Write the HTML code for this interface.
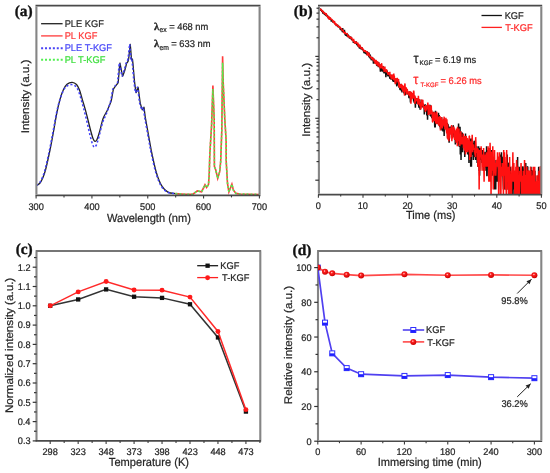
<!DOCTYPE html>
<html><head><meta charset="utf-8"><style>
html,body{margin:0;padding:0;background:#fff;width:550px;height:473px;overflow:hidden;}
body{position:relative;font-family:"Liberation Sans",sans-serif;}
</style></head><body>
<svg width="550" height="473" viewBox="0 0 550 473" style="position:absolute;left:0;top:0;filter:blur(0.35px)" text-rendering="geometricPrecision">
<rect width="550" height="473" fill="#fff"/>
<defs><clipPath id="ca"><rect x="36.4" y="5.6" width="223.2" height="189.8"/></clipPath>
<clipPath id="cb"><rect x="318.9" y="5.6" width="222.4" height="189"/></clipPath>
<clipPath id="cd"><rect x="318" y="251" width="223.29999999999995" height="190.2"/></clipPath>
<radialGradient id="ball" cx="0.42" cy="0.38" r="0.62"><stop offset="0" stop-color="#ffe0e0"/><stop offset="0.3" stop-color="#ff2020"/><stop offset="1" stop-color="#c80000"/></radialGradient>
</defs>
<g clip-path="url(#ca)" fill="none">
<path d="M36.5,185.4 C37.05,185.05 38.8,184.45 39.8,183.3 C40.8,182.15 41.55,180.72 42.5,178.5 C43.45,176.28 44.25,174.75 45.5,170 C46.75,165.25 48.62,156.67 50,150 C51.38,143.33 52.63,136.33 53.8,130 C54.97,123.67 55.95,117.17 57,112 C58.05,106.83 59.02,102.75 60.1,99 C61.18,95.25 62.35,91.97 63.5,89.5 C64.65,87.03 65.55,85.4 67,84.2 C68.45,83 70.62,82.25 72.2,82.3 C73.78,82.35 75.28,83.22 76.5,84.5 C77.72,85.78 78.53,87.5 79.5,90 C80.47,92.5 81.22,95.8 82.3,99.5 C83.38,103.2 84.63,107.12 86,112.2 C87.37,117.28 89.33,125.62 90.5,130 C91.67,134.38 92.27,136.6 93,138.5 C93.73,140.4 94.23,141.23 94.9,141.4 C95.57,141.57 96.23,141.07 97,139.5 C97.77,137.93 98.48,135.5 99.5,132 C100.52,128.5 101.85,122 103.1,118.5 C104.35,115 105.85,113.42 107,111 C108.15,108.58 109.27,105.83 110,104 C110.73,102.17 111.26,100.59 111.4,100 C111.54,99.41 113.22,89.78 113.4,89.2 C113.58,88.62 115.81,85.77 116,85.5 C116.19,85.23 118.04,83.3 118.2,82.4 C118.36,81.5 119.72,63.35 119.9,63.1 C120.08,62.85 122.39,75.95 122.6,76.2 C122.81,76.45 124.94,69.82 125.1,69.3 C125.26,68.78 126.58,63.41 126.7,63.1 C126.82,62.79 127.92,61.72 128,61.5 C128.08,61.28 128.71,58.29 128.8,57.6 C128.89,56.91 130.19,44.22 130.3,44.3 C130.41,44.38 131.42,59.11 131.5,59.7 C131.58,60.29 132.34,58.78 132.4,59 C132.46,59.22 133.02,64.35 133.1,65.2 C133.18,66.05 134.28,79.2 134.4,80.3 C134.52,81.4 135.95,92.32 136.1,92.6 C136.25,92.88 137.94,86.79 138.1,87.2 C138.26,87.61 140.03,101.9 140.2,102.8 C140.37,103.7 142.15,109.62 142.3,109.8 C142.45,109.98 143.88,107.02 144,107.3 C144.12,107.58 144.99,115.51 145.2,116.8 C145.41,118.09 148.17,133.4 149.3,139.6 C150.43,145.8 150.8,148.43 152,154 C153.2,159.57 154.9,167.72 156.5,173 C158.1,178.28 159.7,182.52 161.6,185.7 C163.5,188.88 165.58,190.78 167.9,192.1 C170.22,193.42 174.23,193.35 175.5,193.6" stroke="#222" stroke-width="1.3"/>
<path d="M175.5,193.6 L185,194.3 L192.9,194.2 L197.3,190.9 L201.6,191.8 L205,184.8 L206.6,187.5 L208.5,184.6 L209.2,174.3 L209.8,154.7 L210.5,142.9 L211.6,125 L212.9,85.5 L214.2,120 L214.4,166.5 L215.7,169.8 L217.7,178.3 L219.7,171.7 L220.7,161.2 L221.8,130 L222.6,56.2 L223.3,85 L224.8,119.4 L226.1,140 L226.2,161.2 L227.5,183.5 L228.9,192 L231.9,184.2 L233.4,190.1 L236,193.4 L240,194 L259.4,194.5" stroke="#ff3a3a" stroke-width="1.6"/>
<path d="M36.5,185.4 C36.95,185.06 38.3,184.47 39.2,183.34 C40.1,182.2 40.95,180.78 41.9,178.59 C42.85,176.4 43.65,174.87 44.9,170.19 C46.15,165.52 48.02,157.06 49.4,150.52 C50.78,143.98 52.03,137.14 53.2,130.96 C54.37,124.78 55.35,118.45 56.4,113.44 C57.45,108.44 58.42,104.55 59.5,100.91 C60.58,97.27 61.75,94.02 62.9,91.6 C64.05,89.18 64.95,87.58 66.4,86.41 C67.85,85.23 70.02,84.5 71.6,84.54 C73.18,84.59 74.68,85.44 75.9,86.7 C77.12,87.96 77.93,89.64 78.9,92.09 C79.87,94.54 80.62,97.55 81.7,101.4 C82.78,105.25 84.03,109.64 85.4,115.19 C86.77,120.75 88.73,129.96 89.9,134.72 C91.07,139.48 91.67,141.66 92.4,143.74 C93.13,145.82 93.63,147.02 94.3,147.2 C94.97,147.38 95.63,146.53 96.4,144.84 C97.17,143.15 97.88,140.72 98.9,137.06 C99.92,133.39 101.25,126.77 102.5,122.88 C103.75,118.98 105.25,116.65 106.4,113.7 C107.55,110.75 108.67,107.39 109.4,105.17 C110.13,102.95 110.23,103.03 110.8,100.37 C111.37,97.71 112.62,89.79 112.8,89.2 C112.98,88.61 115.21,85.77 115.4,85.5 C115.59,85.23 117.44,83.3 117.6,82.4 C117.76,81.5 119.12,63.35 119.3,63.1 C119.48,62.85 121.79,75.95 122,76.2 C122.21,76.45 124.34,69.82 124.5,69.3 C124.66,68.78 125.98,63.41 126.1,63.1 C126.22,62.79 127.32,61.72 127.4,61.5 C127.48,61.28 128.11,58.29 128.2,57.6 C128.29,56.91 129.59,44.22 129.7,44.3 C129.81,44.38 130.82,59.11 130.9,59.7 C130.98,60.29 131.74,58.78 131.8,59 C131.86,59.22 132.42,64.35 132.5,65.2 C132.58,66.05 133.68,79.2 133.8,80.3 C133.92,81.4 135.35,92.32 135.5,92.6 C135.65,92.88 137.34,86.79 137.5,87.2 C137.66,87.61 139.43,101.9 139.6,102.8 C139.77,103.7 141.55,109.62 141.7,109.8 C141.85,109.98 143.28,107.02 143.4,107.3 C143.52,107.58 144.39,115.51 144.6,116.8 C144.81,118.09 147.57,133.4 148.7,139.6 C149.83,145.8 150.2,148.43 151.4,154 C152.6,159.57 154.3,167.72 155.9,173 C157.5,178.28 159.1,182.52 161,185.7 C162.9,188.88 164.98,190.78 167.3,192.1 C169.62,193.42 173.63,193.35 174.9,193.6" stroke="#4040fa" stroke-width="1.55" stroke-dasharray="2.1 2.1"/>
<path d="M175.5,193.6 L185,194.3 L192.9,194.2 L197.3,190.9 L201.6,191.8 L205,184.8 L206.6,187.5 L208.5,184.6 L209.2,174.3 L209.8,154.7 L210.5,142.9 L211.6,125 L212.9,89 L214.2,120 L214.4,166.5 L215.7,169.8 L217.7,178.3 L219.7,171.7 L220.7,161.2 L221.8,130 L222.6,62.8 L223.3,85 L224.8,119.4 L226.1,140 L226.2,161.2 L227.5,183.5 L228.9,192 L231.9,184.2 L233.4,190.1 L236,193.4 L240,194 L259.4,194.5" stroke="#50f050" stroke-width="1.6" stroke-dasharray="2 1.92"/>
</g>
<path d="M35.5,5.6 H260.5 M35.5,195.4 H260.5" stroke="#4a4a4a" stroke-width="1.6" fill="none"/>
<path d="M36.4,6.4 V194.6 M259.6,6.4 V194.6" stroke="#858585" stroke-width="2.1" fill="none"/>
<line x1="36.1" y1="195.4" x2="36.1" y2="198.6" stroke="#3c3c3c" stroke-width="1.1" />
<text transform="translate(28.42 209.73) scale(1 1.05)" font-family="Liberation Sans" font-weight="normal" font-size="9.2" fill="#262626" stroke="#262626" stroke-width="0.22">300</text>
<line x1="64.01" y1="195.4" x2="64.01" y2="197.4" stroke="#3c3c3c" stroke-width="1.1" />
<line x1="91.93" y1="195.4" x2="91.93" y2="198.6" stroke="#3c3c3c" stroke-width="1.1" />
<text transform="translate(84.34 209.73) scale(1 1.05)" font-family="Liberation Sans" font-weight="normal" font-size="9.2" fill="#262626" stroke="#262626" stroke-width="0.22">400</text>
<line x1="119.84" y1="195.4" x2="119.84" y2="197.4" stroke="#3c3c3c" stroke-width="1.1" />
<line x1="147.75" y1="195.4" x2="147.75" y2="198.6" stroke="#3c3c3c" stroke-width="1.1" />
<text transform="translate(140.07 209.73) scale(1 1.05)" font-family="Liberation Sans" font-weight="normal" font-size="9.2" fill="#262626" stroke="#262626" stroke-width="0.22">500</text>
<line x1="175.66" y1="195.4" x2="175.66" y2="197.4" stroke="#3c3c3c" stroke-width="1.1" />
<line x1="203.57" y1="195.4" x2="203.57" y2="198.6" stroke="#3c3c3c" stroke-width="1.1" />
<text transform="translate(195.85 209.73) scale(1 1.05)" font-family="Liberation Sans" font-weight="normal" font-size="9.2" fill="#262626" stroke="#262626" stroke-width="0.22">600</text>
<line x1="231.49" y1="195.4" x2="231.49" y2="197.4" stroke="#3c3c3c" stroke-width="1.1" />
<line x1="259.4" y1="195.4" x2="259.4" y2="198.6" stroke="#3c3c3c" stroke-width="1.1" />
<text transform="translate(251.67 209.73) scale(1 1.05)" font-family="Liberation Sans" font-weight="normal" font-size="9.2" fill="#262626" stroke="#262626" stroke-width="0.22">700</text>
<text transform="translate(106.91 221.57) scale(1 1.05)" font-family="Liberation Sans" font-weight="normal" font-size="11.1" fill="#262626" stroke="#262626" stroke-width="0.22">Wavelength (nm)</text>
<text transform="translate(29.13 133.34) rotate(-90) scale(1.05 1)" font-family="Liberation Sans" font-size="11.1" fill="#262626" stroke="#262626" stroke-width="0.22">Intensity (a.u.)</text>
<line x1="41.1" y1="23.7" x2="62.6" y2="23.7" stroke="#222" stroke-width="1.3" />
<text transform="translate(64.66 26.77) scale(1 1.05)" font-family="Liberation Sans" font-weight="normal" font-size="9.3" fill="#2a2a2a" stroke="#2a2a2a" stroke-width="0.22">PLE KGF</text>
<line x1="41.1" y1="35.9" x2="62.6" y2="35.9" stroke="#ff3a3a" stroke-width="1.3" />
<text transform="translate(64.66 38.97) scale(1 1.05)" font-family="Liberation Sans" font-weight="normal" font-size="9.3" fill="#ff3a3a" stroke="#ff3a3a" stroke-width="0.22">PL KGF</text>
<line x1="41.1" y1="48.2" x2="62.7" y2="48.2" stroke="#4a44f5" stroke-width="1.9" stroke-dasharray="2 1.92"/>
<text transform="translate(64.66 51.27) scale(1 1.05)" font-family="Liberation Sans" font-weight="normal" font-size="9.3" fill="#4848f8" stroke="#4848f8" stroke-width="0.22">PLE T-KGF</text>
<line x1="41.1" y1="59.8" x2="62.7" y2="59.8" stroke="#50f050" stroke-width="1.9" stroke-dasharray="2 1.92"/>
<text transform="translate(64.66 62.87) scale(1 1.05)" font-family="Liberation Sans" font-weight="normal" font-size="9.3" fill="#40e040" stroke="#40e040" stroke-width="0.22">PL T-KGF</text>
<text transform="translate(154.09 29.5) scale(1 1)" font-family="Liberation Serif" font-weight="bold" font-size="10.5" fill="#262626" stroke="#262626" stroke-width="0.35">λ</text>
<text transform="translate(159.53 32.4) scale(1 1.05)" font-family="Liberation Sans" font-weight="normal" font-size="6.8" fill="#262626" stroke="#262626" stroke-width="0.22">ex</text>
<text transform="translate(169.13 29.99) scale(1 1.05)" font-family="Liberation Sans" font-weight="normal" font-size="9.35" fill="#262626" stroke="#262626" stroke-width="0.22">= 468 nm</text>
<text transform="translate(154.09 46.8) scale(1 1)" font-family="Liberation Serif" font-weight="bold" font-size="10.5" fill="#262626" stroke="#262626" stroke-width="0.35">λ</text>
<text transform="translate(159.53 49.6) scale(1 1.05)" font-family="Liberation Sans" font-weight="normal" font-size="6.8" fill="#262626" stroke="#262626" stroke-width="0.22">em</text>
<text transform="translate(171.23 46.69) scale(1 1.05)" font-family="Liberation Sans" font-weight="normal" font-size="9.35" fill="#262626" stroke="#262626" stroke-width="0.22">= 633 nm</text>
<text transform="translate(14.64 16.4) scale(1 1)" font-family="Liberation Serif" font-weight="bold" font-size="15.4" fill="#111" stroke="#111" stroke-width="0.35">(a)</text>
<g clip-path="url(#cb)" fill="none" stroke-linejoin="bevel">
<path d="M318.4,8.27 L318.65,7.66 L318.9,9.06 L319.14,7.13 L319.39,8.73 L319.64,8.5 L319.89,9.68 L320.14,8.97 L320.38,8.92 L320.63,9.63 L320.88,10.18 L321.13,10.64 L321.38,9.72 L321.62,10.71 L321.87,11.86 L322.12,11.25 L322.37,11.08 L322.62,10.76 L322.86,13.57 L323.11,12.34 L323.36,11.43 L323.61,12.82 L323.86,12.86 L324.11,14.31 L324.35,12.6 L324.6,13.83 L324.85,14.72 L325.1,14.03 L325.35,13.79 L325.59,15.68 L325.84,13.82 L326.09,14.35 L326.34,16.15 L326.59,15.78 L326.83,15.65 L327.08,16.42 L327.33,14.87 L327.58,16.46 L327.83,16.12 L328.07,18.04 L328.32,17.56 L328.57,16.84 L328.82,17.23 L329.07,18.54 L329.31,18.8 L329.56,17.68 L329.81,17.97 L330.06,18.99 L330.31,19.47 L330.55,18.94 L330.8,19.44 L331.05,19.45 L331.3,21.73 L331.55,20.04 L331.79,20.72 L332.04,20.91 L332.29,21.23 L332.54,20 L332.79,22.48 L333.04,21.16 L333.28,21.14 L333.53,22.89 L333.78,21.82 L334.03,21.96 L334.28,22.12 L334.52,23.88 L334.77,23.22 L335.02,23.24 L335.27,24.26 L335.52,24.22 L335.76,24.63 L336.01,24.59 L336.26,24.28 L336.51,26.03 L336.76,25.02 L337,26.21 L337.25,24.94 L337.5,24.73 L337.75,26.5 L338,26.65 L338.24,26.8 L338.49,25.78 L338.74,26.46 L338.99,26.59 L339.24,27.35 L339.48,27.61 L339.73,27.48 L339.98,28.21 L340.23,29.58 L340.48,28.95 L340.72,28.63 L340.97,29.3 L341.22,30.38 L341.47,29.81 L341.72,29.86 L341.97,30.07 L342.21,31.22 L342.46,32.16 L342.71,28.1 L342.96,32.18 L343.21,32.05 L343.45,31.42 L343.7,32.36 L343.95,31.32 L344.2,32.44 L344.45,29.91 L344.69,33.67 L344.94,32.91 L345.19,35.09 L345.44,33.69 L345.69,33.37 L345.93,36.03 L346.18,32.99 L346.43,34.69 L346.68,33.02 L346.93,34.19 L347.17,36.12 L347.42,36.78 L347.67,35.67 L347.92,34.44 L348.17,35.56 L348.41,37.19 L348.66,35.88 L348.91,36.21 L349.16,37.09 L349.41,38.23 L349.65,37.47 L349.9,38.69 L350.15,38.17 L350.4,37.91 L350.65,37 L350.89,36.85 L351.14,38.92 L351.39,39.35 L351.64,40.07 L351.89,39.66 L352.14,39.97 L352.38,39.59 L352.63,40.17 L352.88,40.74 L353.13,40.45 L353.38,42.91 L353.62,41.56 L353.87,41.27 L354.12,42.08 L354.37,41.71 L354.62,42.49 L354.86,42.72 L355.11,42.49 L355.36,43.3 L355.61,43.26 L355.86,41.93 L356.1,41.53 L356.35,42.12 L356.6,44.34 L356.85,44.46 L357.1,43.69 L357.34,44.21 L357.59,45.84 L357.84,44.66 L358.09,46.14 L358.34,46.44 L358.58,46.8 L358.83,45.12 L359.08,47.06 L359.33,47.29 L359.58,48.59 L359.82,45.41 L360.07,48.16 L360.32,46.09 L360.57,48.26 L360.82,47.06 L361.07,49.51 L361.31,47.65 L361.56,47.15 L361.81,49.26 L362.06,47.65 L362.31,49.26 L362.55,50.1 L362.8,49.7 L363.05,49.51 L363.3,49.12 L363.55,51.13 L363.79,51.28 L364.04,53.07 L364.29,51.34 L364.54,50.05 L364.79,51.44 L365.03,53.53 L365.28,52.14 L365.53,53.81 L365.78,53.47 L366.03,52.68 L366.27,53.93 L366.52,53.99 L366.77,53.87 L367.02,54.93 L367.27,51.39 L367.51,52.85 L367.76,52.19 L368.01,54.69 L368.26,54.34 L368.51,54.93 L368.75,55.73 L369,56.8 L369.25,52.68 L369.5,57.85 L369.75,57.12 L370,58.39 L370.24,54.63 L370.49,56.8 L370.74,56.54 L370.99,58.19 L371.24,60.16 L371.48,59.44 L371.73,59.16 L371.98,59.37 L372.23,57.45 L372.48,57.45 L372.72,60.53 L372.97,58.95 L373.22,60.98 L373.47,63.67 L373.72,60.02 L373.96,58.53 L374.21,62.53 L374.46,60.68 L374.71,60.6 L374.96,60.98 L375.2,61.74 L375.45,63.83 L375.7,62.53 L375.95,63.25 L376.2,61.05 L376.44,62.45 L376.69,65.74 L376.94,63.17 L377.19,62.85 L377.44,66.2 L377.68,64.17 L377.93,63.83 L378.18,62.61 L378.43,67.13 L378.68,62.21 L378.93,66.38 L379.17,66.2 L379.42,67.03 L379.67,65.74 L379.92,64.43 L380.17,67.41 L380.41,71.65 L380.66,68.09 L380.91,66.56 L381.16,67.03 L381.41,71.1 L381.65,69.5 L381.9,68.29 L382.15,68.09 L382.4,71.76 L382.65,69.81 L382.89,68.09 L383.14,69.6 L383.39,66.2 L383.64,72.8 L383.89,71.54 L384.13,73.39 L384.38,71.99 L384.63,70.02 L384.88,72.91 L385.13,72.45 L385.37,71.54 L385.62,70.55 L385.87,77.23 L386.12,72.45 L386.37,71.43 L386.61,73.99 L386.86,72.45 L387.11,70.45 L387.36,75.11 L387.61,72.1 L387.85,76.15 L388.1,75.11 L388.35,76.42 L388.6,72.33 L388.85,73.27 L389.1,75.37 L389.34,74.61 L389.59,76.82 L389.84,78.22 L390.09,78.79 L390.34,75.89 L390.58,77.23 L390.83,76.69 L391.08,79.69 L391.33,77.79 L391.58,74.86 L391.82,78.94 L392.07,78.5 L392.32,76.82 L392.57,75.89 L392.82,81.4 L393.06,78.94 L393.31,80.3 L393.56,80.61 L393.81,81.72 L394.06,80.61 L394.3,77.51 L394.55,79.54 L394.8,78.36 L395.05,79.99 L395.3,82.38 L395.54,79.39 L395.79,83.23 L396.04,78.79 L396.29,79.69 L396.54,83.93 L396.78,86.33 L397.03,81.08 L397.28,83.93 L397.53,85.01 L397.78,81.08 L398.03,81.72 L398.27,84.65 L398.52,84.47 L398.77,87.32 L399.02,86.92 L399.27,83.75 L399.51,84.29 L399.76,88.76 L400.01,89.4 L400.26,89.62 L400.51,89.4 L400.75,84.11 L401,84.47 L401.25,87.93 L401.5,91.2 L401.75,86.33 L401.99,92.38 L402.24,86.92 L402.49,89.19 L402.74,87.52 L402.99,90.06 L403.23,87.72 L403.48,87.72 L403.73,89.84 L403.98,93.37 L404.23,89.62 L404.47,88.97 L404.72,93.12 L404.97,95.19 L405.22,94.65 L405.47,90.74 L405.71,92.87 L405.96,93.12 L406.21,92.14 L406.46,91.43 L406.71,90.74 L406.96,93.62 L407.2,94.13 L407.45,91.43 L407.7,93.88 L407.95,91.9 L408.2,92.87 L408.44,92.14 L408.69,94.65 L408.94,98.32 L409.19,94.39 L409.44,94.92 L409.68,93.88 L409.93,91.43 L410.18,95.73 L410.43,102.56 L410.68,96.01 L410.92,93.62 L411.17,96.57 L411.42,94.92 L411.67,97.72 L411.92,96.28 L412.16,97.43 L412.41,97.14 L412.66,96.85 L412.91,93.88 L413.16,93.62 L413.4,96.28 L413.65,101.52 L413.9,99.87 L414.15,102.56 L414.4,96.01 L414.64,96.85 L414.89,100.85 L415.14,101.52 L415.39,107.61 L415.64,99.56 L415.88,99.87 L416.13,98.02 L416.38,103.65 L416.63,100.2 L416.88,98.93 L417.13,99.56 L417.37,102.92 L417.62,98.02 L417.87,100.52 L418.12,103.65 L418.37,103.65 L418.61,104.02 L418.86,107.61 L419.11,104.02 L419.36,106.36 L419.61,99.56 L419.85,105.16 L420.1,109.83 L420.35,105.16 L420.6,104.78 L420.85,102.21 L421.09,106.77 L421.34,105.95 L421.59,99.87 L421.84,107.18 L422.09,100.52 L422.33,104.02 L422.58,104.39 L422.83,105.95 L423.08,106.36 L423.33,107.18 L423.57,107.61 L423.82,105.16 L424.07,105.16 L424.32,114.36 L424.57,109.83 L424.81,110.3 L425.06,105.95 L425.31,104.39 L425.56,107.18 L425.81,105.55 L426.06,107.61 L426.3,107.18 L426.55,107.61 L426.8,115.48 L427.05,105.55 L427.3,106.77 L427.54,119.82 L427.79,110.77 L428.04,114.36 L428.29,112.77 L428.54,109.83 L428.78,113.29 L429.03,112.77 L429.28,113.82 L429.53,111.26 L429.78,112.25 L430.02,104.78 L430.27,116.06 L430.52,114.92 L430.77,115.48 L431.02,116.65 L431.26,114.92 L431.51,114.36 L431.76,117.88 L432.01,114.36 L432.26,117.88 L432.5,118.51 L432.75,112.25 L433,117.88 L433.25,111.75 L433.5,113.82 L433.74,113.29 L433.99,117.88 L434.24,115.48 L434.49,117.26 L434.74,127.55 L434.99,119.16 L435.23,127.55 L435.48,110.77 L435.73,121.92 L435.98,117.26 L436.23,117.26 L436.47,117.88 L436.72,117.26 L436.97,123.41 L437.22,123.41 L437.47,122.65 L437.71,115.48 L437.96,121.2 L438.21,119.82 L438.46,112.77 L438.71,117.88 L438.95,124.99 L439.2,114.92 L439.45,121.92 L439.7,126.67 L439.95,124.99 L440.19,119.16 L440.44,128.46 L440.69,124.99 L440.94,119.16 L441.19,117.88 L441.43,120.5 L441.68,117.26 L441.93,130.39 L442.18,125.82 L442.43,120.5 L442.67,121.92 L442.92,131.4 L443.17,126.67 L443.42,123.41 L443.67,124.19 L443.92,122.65 L444.16,135.89 L444.41,118.51 L444.66,129.41 L444.91,124.99 L445.16,122.65 L445.4,124.19 L445.65,125.82 L445.9,124.19 L446.15,125.82 L446.4,127.55 L446.64,131.4 L446.89,132.45 L447.14,131.4 L447.39,122.65 L447.64,137.14 L447.88,138.45 L448.13,124.19 L448.38,129.41 L448.63,133.55 L448.88,129.41 L449.12,142.82 L449.37,137.14 L449.62,126.67 L449.87,129.41 L450.12,126.67 L450.36,128.46 L450.61,130.39 L450.86,126.67 L451.11,127.55 L451.36,133.55 L451.6,134.7 L451.85,133.55 L452.1,134.7 L452.35,134.7 L452.6,129.41 L452.84,137.14 L453.09,125.82 L453.34,125.82 L453.59,134.7 L453.84,133.55 L454.09,129.41 L454.33,130.39 L454.58,135.89 L454.83,139.83 L455.08,134.7 L455.33,144.45 L455.57,141.29 L455.82,135.89 L456.07,135.89 L456.32,135.89 L456.57,132.45 L456.81,141.29 L457.06,137.14 L457.31,142.82 L457.56,138.45 L457.81,144.45 L458.05,132.45 L458.3,135.89 L458.55,123.41 L458.8,131.4 L459.05,146.19 L459.29,146.19 L459.54,135.89 L459.79,134.7 L460.04,126.67 L460.29,154.52 L460.53,146.19 L460.78,131.4 L461.03,159.92 L461.28,139.83 L461.53,135.89 L461.77,146.19 L462.02,148.04 L462.27,132.45 L462.52,152.19 L462.77,142.82 L463.02,148.04 L463.26,142.82 L463.51,139.83 L463.76,144.45 L464.01,137.14 L464.26,144.45 L464.5,146.19 L464.75,157.09 L465,150.03 L465.25,144.45 L465.5,133.55 L465.74,146.19 L465.99,146.19 L466.24,146.19 L466.49,139.83 L466.74,146.19 L466.98,141.29 L467.23,148.04 L467.48,150.03 L467.73,154.52 L467.98,152.19 L468.22,144.45 L468.47,154.52 L468.72,150.03 L468.97,163.09 L469.22,142.82 L469.46,144.45 L469.71,154.52 L469.96,150.03 L470.21,159.92 L470.46,138.45 L470.7,166.68 L470.95,152.19 L471.2,138.45 L471.45,166.68 L471.7,139.83 L471.95,154.52 L472.19,138.45 L472.44,142.82 L472.69,154.52 L472.94,154.52 L473.19,142.82 L473.43,159.92 L473.68,152.19 L473.93,154.52 L474.18,141.29 L474.43,141.29 L474.67,150.03 L474.92,157.09 L475.17,150.03 L475.42,152.19 L475.67,159.92 L475.91,152.19 L476.16,154.52 L476.41,157.09 L476.66,146.19 L476.91,148.04 L477.15,163.09 L477.4,148.04 L477.65,152.19 L477.9,166.68 L478.15,159.92 L478.39,154.52 L478.64,146.19 L478.89,150.03 L479.14,170.82 L479.39,170.82 L479.63,175.72 L479.88,150.03 L480.13,148.04 L480.38,157.09 L480.63,159.92 L480.87,157.09 L481.12,148.04 L481.37,154.52 L481.62,157.09 L481.87,163.09 L482.12,154.52 L482.36,157.09 L482.61,150.03 L482.86,157.09 L483.11,157.09 L483.36,159.92 L483.6,170.82 L483.85,157.09 L484.1,159.92 L484.35,157.09 L484.6,170.82 L484.84,152.19 L485.09,152.19 L485.34,163.09 L485.59,166.68 L485.84,166.68 L486.08,152.19 L486.33,170.82 L486.58,146.19 L486.83,175.72 L487.08,175.72 L487.32,163.09 L487.57,159.92 L487.82,157.09 L488.07,150.03 L488.32,166.68 L488.56,157.09 L488.81,166.68 L489.06,166.68 L489.31,152.19 L489.56,154.52 L489.8,157.09 L490.05,166.68 L490.3,175.72 L490.55,154.52 L490.8,163.09 L491.05,170.82 L491.29,159.92 L491.54,175.72 L491.79,150.03 L492.04,170.82 L492.29,163.09 L492.53,166.68 L492.78,175.72 L493.03,163.09 L493.28,163.09 L493.53,170.82 L493.77,166.68 L494.02,159.92 L494.27,166.68 L494.52,189.45 L494.77,175.72 L495.01,189.45 L495.26,181.72 L495.51,163.09 L495.76,189.45 L496.01,159.92 L496.25,166.68 L496.5,170.82 L496.75,170.82 L497,170.82 L497.25,181.72 L497.49,175.72 L497.74,175.72 L497.99,163.09 L498.24,166.68 L498.49,166.68 L498.73,166.68 L498.98,157.09 L499.23,157.09 L499.48,170.82 L499.73,170.82 L499.98,154.52 L500.22,181.72 L500.47,163.09 L500.72,166.68 L500.97,163.09 L501.22,175.72 L501.46,152.19 L501.71,163.09 L501.96,157.09 L502.21,157.09 L502.46,170.82 L502.7,159.92 L502.95,175.72 L503.2,181.72 L503.45,189.45 L503.7,163.09 L503.94,175.72 L504.19,175.72 L504.44,163.09 L504.69,189.45 L504.94,181.72 L505.18,166.68 L505.43,189.45 L505.68,170.82 L505.93,175.72 L506.18,175.72 L506.42,166.68 L506.67,175.72 L506.92,175.72 L507.17,154.52 L507.42,170.82 L507.66,163.09 L507.91,181.72 L508.16,189.45 L508.41,189.45 L508.66,175.72 L508.91,163.09 L509.15,163.09 L509.4,166.68 L509.65,206.6 L509.9,175.72 L510.15,181.72 L510.39,166.68 L510.64,181.72 L510.89,189.45 L511.14,189.45 L511.39,175.72 L511.63,181.72 L511.88,189.45 L512.13,200.35 L512.38,175.72 L512.63,181.72 L512.87,170.82 L513.12,175.72 L513.37,189.45 L513.62,181.72 L513.87,181.72 L514.11,206.6 L514.36,175.72 L514.61,170.82 L514.86,181.72 L515.11,170.82 L515.35,175.72 L515.6,181.72 L515.85,181.72 L516.1,170.82 L516.35,189.45 L516.59,181.72 L516.84,181.72 L517.09,206.6 L517.34,189.45 L517.59,157.09 L517.83,189.45 L518.08,181.72 L518.33,175.72 L518.58,189.45 L518.83,189.45 L519.08,170.82 L519.32,166.68 L519.57,189.45 L519.82,175.72 L520.07,170.82 L520.32,200.35 L520.56,181.72 L520.81,181.72 L521.06,189.45 L521.31,181.72 L521.56,189.45 L521.8,206.6 L522.05,189.45 L522.3,189.45 L522.55,175.72 L522.8,166.68 L523.04,166.68 L523.29,170.82 L523.54,175.72 L523.79,200.35 L524.04,175.72 L524.28,200.35 L524.53,181.72 L524.78,175.72 L525.03,189.45 L525.28,166.68 L525.52,206.6 L525.77,163.09 L526.02,189.45 L526.27,206.6 L526.52,181.72 L526.76,170.82 L527.01,175.72 L527.26,175.72 L527.51,166.68 L527.76,166.68 L528.01,200.35 L528.25,206.6 L528.5,200.35 L528.75,189.45 L529,170.82 L529.25,206.6 L529.49,206.6 L529.74,170.82 L529.99,200.35 L530.24,206.6 L530.49,189.45 L530.73,175.72 L530.98,166.68 L531.23,189.45 L531.48,175.72 L531.73,189.45 L531.97,170.82 L532.22,170.82 L532.47,189.45 L532.72,189.45 L532.97,189.45 L533.21,170.82 L533.46,189.45 L533.71,181.72 L533.96,175.72 L534.21,200.35 L534.45,189.45 L534.7,181.72 L534.95,170.82 L535.2,189.45 L535.45,189.45 L535.69,189.45 L535.94,200.35 L536.19,181.72 L536.44,200.35 L536.69,181.72 L536.94,200.35 L537.18,189.45 L537.43,200.35 L537.68,175.72 L537.93,206.6 L538.18,189.45 L538.42,181.72 L538.67,166.68 L538.92,189.45 L539.17,200.35 L539.42,181.72 L539.66,189.45 L539.91,189.45 L540.16,206.6 L540.41,206.6 L540.66,200.35 L540.9,166.68 L541.15,189.45 L541.4,170.82" stroke="#111" stroke-width="1.5"/>
<path d="M318.4,7.28 L318.65,8.51 L318.9,7.81 L319.14,8.78 L319.39,8.16 L319.64,8.87 L319.89,10.06 L320.14,9.53 L320.38,9.38 L320.63,9.48 L320.88,9.84 L321.13,9.06 L321.38,9.79 L321.62,10.41 L321.87,10.63 L322.12,11.08 L322.37,11.96 L322.62,11.13 L322.86,11.47 L323.11,11.4 L323.36,11.75 L323.61,13.32 L323.86,13 L324.11,12.44 L324.35,13.02 L324.6,13.88 L324.85,12.53 L325.1,13.85 L325.35,14.11 L325.59,15.13 L325.84,14.64 L326.09,13.1 L326.34,14.52 L326.59,14.83 L326.83,15.89 L327.08,15.83 L327.33,16 L327.58,16.97 L327.83,17.67 L328.07,15.86 L328.32,17.91 L328.57,18.34 L328.82,16.65 L329.07,17.25 L329.31,19.81 L329.56,18.46 L329.81,17.62 L330.06,19.04 L330.31,17.32 L330.55,18.9 L330.8,18.74 L331.05,19.15 L331.3,19.37 L331.55,19.24 L331.79,19.15 L332.04,19.86 L332.29,19.94 L332.54,20 L332.79,21.49 L333.04,21.38 L333.28,22.21 L333.53,22.6 L333.78,21.64 L334.03,21.33 L334.28,21.98 L334.52,20.96 L334.77,24.18 L335.02,22.97 L335.27,24.55 L335.52,23.11 L335.76,24.36 L336.01,25.58 L336.26,23.88 L336.51,24.4 L336.76,25.6 L337,24.73 L337.25,25.66 L337.5,25.8 L337.75,24.88 L338,26.3 L338.24,26.25 L338.49,25.78 L338.74,27.22 L338.99,27.07 L339.24,27.68 L339.48,27.48 L339.73,27.2 L339.98,28.12 L340.23,26.82 L340.48,27.59 L340.72,28.23 L340.97,28.23 L341.22,28.84 L341.47,28.43 L341.72,30.26 L341.97,29.62 L342.21,30.82 L342.46,30.38 L342.71,30.12 L342.96,30.65 L343.21,30.03 L343.45,31.42 L343.7,32.62 L343.95,31.85 L344.2,33.23 L344.45,32.6 L344.69,33.72 L344.94,31.82 L345.19,32.57 L345.44,33.88 L345.69,33.8 L345.93,33.39 L346.18,33.75 L346.43,34.02 L346.68,33.53 L346.93,33.91 L347.17,33.45 L347.42,34.22 L347.67,34.95 L347.92,35.82 L348.17,37.37 L348.41,35.56 L348.66,36.63 L348.91,35.73 L349.16,36.6 L349.41,36.57 L349.65,36.09 L349.9,37 L350.15,38.13 L350.4,38.2 L350.65,37.22 L350.89,37.09 L351.14,37.88 L351.39,38.43 L351.64,37.81 L351.89,37.72 L352.14,39.35 L352.38,39.42 L352.63,41.2 L352.88,39.83 L353.13,41.02 L353.38,40.17 L353.62,38.75 L353.87,42.19 L354.12,41.06 L354.37,41.35 L354.62,43.69 L354.86,42.65 L355.11,41.82 L355.36,43.69 L355.61,42.34 L355.86,43.03 L356.1,41.93 L356.35,41.86 L356.6,42.46 L356.85,43.34 L357.1,43.03 L357.34,42.91 L357.59,43.89 L357.84,42.49 L358.09,45.62 L358.34,46.01 L358.58,43.85 L358.83,46.01 L359.08,47.43 L359.33,46.4 L359.58,46.71 L359.82,44.62 L360.07,47.11 L360.32,46.57 L360.57,47.29 L360.82,48.45 L361.07,47.88 L361.31,48.59 L361.56,47.24 L361.81,49.36 L362.06,47.24 L362.31,48.26 L362.55,48.21 L362.8,49.31 L363.05,49.21 L363.3,48.78 L363.55,50.92 L363.79,51.13 L364.04,50.25 L364.29,51.13 L364.54,50.56 L364.79,51.76 L365.03,50.66 L365.28,50.66 L365.53,50.66 L365.78,52.19 L366.03,51.71 L366.27,52.68 L366.52,51.92 L366.77,51.71 L367.02,51.76 L367.27,55.66 L367.51,54.81 L367.76,54.81 L368.01,52.96 L368.26,53.13 L368.51,55.79 L368.75,52.96 L369,52.91 L369.25,56.23 L369.5,55.54 L369.75,55.54 L370,57.45 L370.24,56.35 L370.49,56.86 L370.74,57.06 L370.99,57.39 L371.24,57.85 L371.48,57.06 L371.73,58.95 L371.98,58.33 L372.23,59.65 L372.48,57.26 L372.72,58.46 L372.97,60.16 L373.22,58.6 L373.47,59.09 L373.72,59.87 L373.96,60.02 L374.21,61.74 L374.46,59.44 L374.71,60.38 L374.96,61.51 L375.2,64 L375.45,63.34 L375.7,60.83 L375.95,60.38 L376.2,60.31 L376.44,63.75 L376.69,62.13 L376.94,65.3 L377.19,63.5 L377.44,61.28 L377.68,61.97 L377.93,63.17 L378.18,66.29 L378.43,63.01 L378.68,64.17 L378.93,62.61 L379.17,67.03 L379.42,66.2 L379.67,66.29 L379.92,64.17 L380.17,68.49 L380.41,66.66 L380.66,64.26 L380.91,67.13 L381.16,67.32 L381.41,65.74 L381.65,63.17 L381.9,67.51 L382.15,67.99 L382.4,68.69 L382.65,65.83 L382.89,69.09 L383.14,67.03 L383.39,68.69 L383.64,69.81 L383.89,67.22 L384.13,71.99 L384.38,68.79 L384.63,69.81 L384.88,66.66 L385.13,71.21 L385.37,70.88 L385.62,70.99 L385.87,71.1 L386.12,72.45 L386.37,69.29 L386.61,69.92 L386.86,71.21 L387.11,72.33 L387.36,72.33 L387.61,72.45 L387.85,74.36 L388.1,74.36 L388.35,73.63 L388.6,72.1 L388.85,73.51 L389.1,73.51 L389.34,73.99 L389.59,75.11 L389.84,71.88 L390.09,76.82 L390.34,74.24 L390.58,76.82 L390.83,76.42 L391.08,78.5 L391.33,77.93 L391.58,79.24 L391.82,77.51 L392.07,74.48 L392.32,75.63 L392.57,78.36 L392.82,78.79 L393.06,78.5 L393.31,76.82 L393.56,80.3 L393.81,73.63 L394.06,80.3 L394.3,75.5 L394.55,79.84 L394.8,78.22 L395.05,81.56 L395.3,84.29 L395.54,81.24 L395.79,83.41 L396.04,79.99 L396.29,78.36 L396.54,78.94 L396.78,81.24 L397.03,80.92 L397.28,77.79 L397.53,79.09 L397.78,79.99 L398.03,80.3 L398.27,82.55 L398.52,79.09 L398.77,86.72 L399.02,82.05 L399.27,83.06 L399.51,86.33 L399.76,88.13 L400.01,85.01 L400.26,87.52 L400.51,87.12 L400.75,85.76 L401,84.11 L401.25,84.47 L401.5,86.92 L401.75,88.55 L401.99,84.65 L402.24,90.06 L402.49,85.57 L402.74,86.33 L402.99,91.66 L403.23,88.76 L403.48,86.92 L403.73,87.32 L403.98,85.76 L404.23,90.29 L404.47,95.46 L404.72,85.38 L404.97,83.41 L405.22,89.4 L405.47,87.12 L405.71,91.43 L405.96,87.12 L406.21,92.38 L406.46,88.13 L406.71,94.39 L406.96,92.87 L407.2,89.19 L407.45,90.51 L407.7,91.2 L407.95,92.87 L408.2,92.38 L408.44,91.43 L408.69,95.19 L408.94,94.65 L409.19,93.88 L409.44,96.01 L409.68,92.14 L409.93,91.2 L410.18,96.57 L410.43,98.02 L410.68,92.14 L410.92,103.65 L411.17,93.37 L411.42,91.66 L411.67,99.56 L411.92,93.12 L412.16,95.19 L412.41,94.65 L412.66,94.13 L412.91,98.62 L413.16,96.85 L413.4,95.46 L413.65,90.51 L413.9,91.9 L414.15,98.02 L414.4,97.43 L414.64,95.19 L414.89,104.02 L415.14,98.32 L415.39,96.57 L415.64,102.56 L415.88,98.62 L416.13,100.85 L416.38,98.32 L416.63,98.93 L416.88,98.62 L417.13,99.24 L417.37,98.02 L417.62,100.52 L417.87,104.39 L418.12,103.65 L418.37,95.73 L418.61,99.24 L418.86,104.39 L419.11,102.56 L419.36,101.19 L419.61,98.93 L419.85,106.36 L420.1,104.02 L420.35,105.95 L420.6,104.39 L420.85,109.37 L421.09,107.61 L421.34,102.21 L421.59,104.39 L421.84,99.56 L422.09,101.52 L422.33,105.16 L422.58,106.36 L422.83,99.87 L423.08,106.36 L423.33,103.65 L423.57,108.04 L423.82,108.04 L424.07,108.04 L424.32,108.92 L424.57,105.95 L424.81,109.83 L425.06,106.77 L425.31,111.75 L425.56,110.3 L425.81,105.16 L426.06,107.18 L426.3,110.3 L426.55,108.47 L426.8,107.61 L427.05,106.36 L427.3,108.92 L427.54,108.47 L427.79,102.56 L428.04,105.55 L428.29,114.92 L428.54,112.77 L428.78,106.36 L429.03,104.78 L429.28,108.04 L429.53,109.37 L429.78,106.36 L430.02,114.36 L430.27,113.82 L430.52,109.83 L430.77,110.77 L431.02,112.77 L431.26,105.16 L431.51,113.82 L431.76,110.3 L432.01,111.75 L432.26,115.48 L432.5,121.92 L432.75,121.92 L433,114.36 L433.25,112.25 L433.5,112.77 L433.74,115.48 L433.99,113.82 L434.24,121.2 L434.49,111.75 L434.74,117.26 L434.99,118.51 L435.23,116.06 L435.48,113.29 L435.73,123.41 L435.98,121.92 L436.23,117.88 L436.47,112.25 L436.72,111.75 L436.97,124.19 L437.22,114.92 L437.47,114.92 L437.71,122.65 L437.96,118.51 L438.21,120.5 L438.46,116.65 L438.71,125.82 L438.95,117.88 L439.2,121.92 L439.45,117.26 L439.7,121.2 L439.95,116.06 L440.19,119.82 L440.44,130.39 L440.69,124.19 L440.94,121.2 L441.19,117.88 L441.43,122.65 L441.68,117.26 L441.93,121.92 L442.18,128.46 L442.43,125.82 L442.67,125.82 L442.92,124.19 L443.17,119.82 L443.42,122.65 L443.67,119.16 L443.92,122.65 L444.16,116.65 L444.41,126.67 L444.66,119.82 L444.91,129.41 L445.16,122.65 L445.4,126.67 L445.65,129.41 L445.9,117.88 L446.15,124.19 L446.4,127.55 L446.64,133.55 L446.89,119.16 L447.14,127.55 L447.39,138.45 L447.64,124.19 L447.88,134.7 L448.13,139.83 L448.38,128.46 L448.63,130.39 L448.88,141.29 L449.12,130.39 L449.37,131.4 L449.62,138.45 L449.87,129.41 L450.12,127.55 L450.36,128.46 L450.61,130.39 L450.86,131.4 L451.11,129.41 L451.36,134.7 L451.6,124.99 L451.85,141.29 L452.1,134.7 L452.35,129.41 L452.6,138.45 L452.84,131.4 L453.09,127.55 L453.34,130.39 L453.59,126.67 L453.84,129.41 L454.09,127.55 L454.33,133.55 L454.58,139.83 L454.83,137.14 L455.08,135.89 L455.33,132.45 L455.57,131.4 L455.82,130.39 L456.07,142.82 L456.32,128.46 L456.57,134.7 L456.81,138.45 L457.06,129.41 L457.31,146.19 L457.56,126.67 L457.81,137.14 L458.05,130.39 L458.3,131.4 L458.55,134.7 L458.8,141.29 L459.05,128.46 L459.29,144.45 L459.54,139.83 L459.79,146.19 L460.04,139.83 L460.29,134.7 L460.53,135.89 L460.78,131.4 L461.03,134.7 L461.28,144.45 L461.53,137.14 L461.77,141.29 L462.02,144.45 L462.27,137.14 L462.52,138.45 L462.77,137.14 L463.02,138.45 L463.26,133.55 L463.51,148.04 L463.76,141.29 L464.01,139.83 L464.26,150.03 L464.5,150.03 L464.75,135.89 L465,142.82 L465.25,141.29 L465.5,154.52 L465.74,137.14 L465.99,144.45 L466.24,135.89 L466.49,150.03 L466.74,139.83 L466.98,152.19 L467.23,138.45 L467.48,138.45 L467.73,152.19 L467.98,150.03 L468.22,139.83 L468.47,142.82 L468.72,142.82 L468.97,150.03 L469.22,135.89 L469.46,135.89 L469.71,159.92 L469.96,146.19 L470.21,157.09 L470.46,146.19 L470.7,141.29 L470.95,157.09 L471.2,146.19 L471.45,146.19 L471.7,150.03 L471.95,144.45 L472.19,134.7 L472.44,142.82 L472.69,152.19 L472.94,146.19 L473.19,150.03 L473.43,144.45 L473.68,146.19 L473.93,150.03 L474.18,148.04 L474.43,150.03 L474.67,150.03 L474.92,154.52 L475.17,154.52 L475.42,157.09 L475.67,137.14 L475.91,142.82 L476.16,148.04 L476.41,152.19 L476.66,152.19 L476.91,150.03 L477.15,150.03 L477.4,159.92 L477.65,148.04 L477.9,166.68 L478.15,152.19 L478.39,150.03 L478.64,150.03 L478.89,152.19 L479.14,189.45 L479.39,163.09 L479.63,150.03 L479.88,170.82 L480.13,154.52 L480.38,154.52 L480.63,154.52 L480.87,152.19 L481.12,146.19 L481.37,157.09 L481.62,157.09 L481.87,159.92 L482.12,170.82 L482.36,154.52 L482.61,159.92 L482.86,159.92 L483.11,166.68 L483.36,159.92 L483.6,148.04 L483.85,166.68 L484.1,181.72 L484.35,159.92 L484.6,170.82 L484.84,157.09 L485.09,157.09 L485.34,154.52 L485.59,166.68 L485.84,154.52 L486.08,166.68 L486.33,152.19 L486.58,157.09 L486.83,157.09 L487.08,154.52 L487.32,166.68 L487.57,154.52 L487.82,154.52 L488.07,146.19 L488.32,154.52 L488.56,148.04 L488.81,181.72 L489.06,150.03 L489.31,148.04 L489.56,157.09 L489.8,181.72 L490.05,142.82 L490.3,150.03 L490.55,154.52 L490.8,152.19 L491.05,200.35 L491.29,163.09 L491.54,152.19 L491.79,152.19 L492.04,163.09 L492.29,157.09 L492.53,170.82 L492.78,146.19 L493.03,170.82 L493.28,189.45 L493.53,170.82 L493.77,159.92 L494.02,175.72 L494.27,166.68 L494.52,150.03 L494.77,163.09 L495.01,163.09 L495.26,163.09 L495.51,170.82 L495.76,175.72 L496.01,170.82 L496.25,163.09 L496.5,163.09 L496.75,159.92 L497,163.09 L497.25,166.68 L497.49,152.19 L497.74,163.09 L497.99,163.09 L498.24,157.09 L498.49,181.72 L498.73,206.6 L498.98,166.68 L499.23,175.72 L499.48,152.19 L499.73,175.72 L499.98,157.09 L500.22,163.09 L500.47,175.72 L500.72,206.6 L500.97,189.45 L501.22,166.68 L501.46,170.82 L501.71,175.72 L501.96,175.72 L502.21,163.09 L502.46,175.72 L502.7,163.09 L502.95,175.72 L503.2,170.82 L503.45,200.35 L503.7,150.03 L503.94,175.72 L504.19,166.68 L504.44,152.19 L504.69,166.68 L504.94,157.09 L505.18,170.82 L505.43,189.45 L505.68,166.68 L505.93,170.82 L506.18,189.45 L506.42,206.6 L506.67,150.03 L506.92,170.82 L507.17,170.82 L507.42,181.72 L507.66,175.72 L507.91,166.68 L508.16,189.45 L508.41,166.68 L508.66,200.35 L508.91,166.68 L509.15,170.82 L509.4,175.72 L509.65,157.09 L509.9,200.35 L510.15,170.82 L510.39,200.35 L510.64,200.35 L510.89,175.72 L511.14,206.6 L511.39,206.6 L511.63,175.72 L511.88,170.82 L512.13,166.68 L512.38,166.68 L512.63,170.82 L512.87,152.19 L513.12,181.72 L513.37,175.72 L513.62,170.82 L513.87,163.09 L514.11,181.72 L514.36,175.72 L514.61,170.82 L514.86,200.35 L515.11,189.45 L515.35,181.72 L515.6,189.45 L515.85,166.68 L516.1,206.6 L516.35,170.82 L516.59,159.92 L516.84,166.68 L517.09,189.45 L517.34,166.68 L517.59,206.6 L517.83,181.72 L518.08,166.68 L518.33,181.72 L518.58,189.45 L518.83,175.72 L519.08,181.72 L519.32,200.35 L519.57,189.45 L519.82,170.82 L520.07,175.72 L520.32,181.72 L520.56,170.82 L520.81,170.82 L521.06,163.09 L521.31,175.72 L521.56,175.72 L521.8,200.35 L522.05,189.45 L522.3,175.72 L522.55,189.45 L522.8,206.6 L523.04,189.45 L523.29,170.82 L523.54,181.72 L523.79,175.72 L524.04,181.72 L524.28,206.6 L524.53,159.92 L524.78,166.68 L525.03,181.72 L525.28,189.45 L525.52,200.35 L525.77,200.35 L526.02,175.72 L526.27,175.72 L526.52,200.35 L526.76,166.68 L527.01,200.35 L527.26,189.45 L527.51,189.45 L527.76,206.6 L528.01,175.72 L528.25,170.82 L528.5,170.82 L528.75,181.72 L529,200.35 L529.25,200.35 L529.49,170.82 L529.74,189.45 L529.99,175.72 L530.24,206.6 L530.49,166.68 L530.73,181.72 L530.98,170.82 L531.23,206.6 L531.48,189.45 L531.73,189.45 L531.97,175.72 L532.22,206.6 L532.47,175.72 L532.72,175.72 L532.97,181.72 L533.21,166.68 L533.46,175.72 L533.71,189.45 L533.96,206.6 L534.21,175.72 L534.45,170.82 L534.7,166.68 L534.95,189.45 L535.2,200.35 L535.45,206.6 L535.69,181.72 L535.94,189.45 L536.19,181.72 L536.44,181.72 L536.69,200.35 L536.94,175.72 L537.18,175.72 L537.43,200.35 L537.68,206.6 L537.93,181.72 L538.18,181.72 L538.42,189.45 L538.67,206.6 L538.92,170.82 L539.17,175.72 L539.42,175.72 L539.66,170.82 L539.91,206.6 L540.16,166.68 L540.41,166.68 L540.66,206.6 L540.9,170.82 L541.15,200.35 L541.4,200.35" stroke="#ff1010" stroke-width="1.5"/>
</g>
<path d="M318,5.6 H542.2 M318,194.6 H542.2" stroke="#4a4a4a" stroke-width="1.6" fill="none"/>
<path d="M318.9,6.4 V193.8 M541.3,6.4 V193.8" stroke="#858585" stroke-width="2.1" fill="none"/>
<line x1="318.4" y1="194.6" x2="318.4" y2="197.8" stroke="#3c3c3c" stroke-width="1.1" />
<text transform="translate(315.82 208.63) scale(1 1.05)" font-family="Liberation Sans" font-weight="normal" font-size="9.2" fill="#262626" stroke="#262626" stroke-width="0.22">0</text>
<line x1="340.7" y1="194.6" x2="340.7" y2="196.6" stroke="#3c3c3c" stroke-width="1.1" />
<line x1="363" y1="194.6" x2="363" y2="197.8" stroke="#3c3c3c" stroke-width="1.1" />
<text transform="translate(357.71 208.63) scale(1 1.05)" font-family="Liberation Sans" font-weight="normal" font-size="9.2" fill="#262626" stroke="#262626" stroke-width="0.22">10</text>
<line x1="385.3" y1="194.6" x2="385.3" y2="196.6" stroke="#3c3c3c" stroke-width="1.1" />
<line x1="407.6" y1="194.6" x2="407.6" y2="197.8" stroke="#3c3c3c" stroke-width="1.1" />
<text transform="translate(402.42 208.63) scale(1 1.05)" font-family="Liberation Sans" font-weight="normal" font-size="9.2" fill="#262626" stroke="#262626" stroke-width="0.22">20</text>
<line x1="429.9" y1="194.6" x2="429.9" y2="196.6" stroke="#3c3c3c" stroke-width="1.1" />
<line x1="452.2" y1="194.6" x2="452.2" y2="197.8" stroke="#3c3c3c" stroke-width="1.1" />
<text transform="translate(447.07 208.63) scale(1 1.05)" font-family="Liberation Sans" font-weight="normal" font-size="9.2" fill="#262626" stroke="#262626" stroke-width="0.22">30</text>
<line x1="474.5" y1="194.6" x2="474.5" y2="196.6" stroke="#3c3c3c" stroke-width="1.1" />
<line x1="496.8" y1="194.6" x2="496.8" y2="197.8" stroke="#3c3c3c" stroke-width="1.1" />
<text transform="translate(491.76 208.63) scale(1 1.05)" font-family="Liberation Sans" font-weight="normal" font-size="9.2" fill="#262626" stroke="#262626" stroke-width="0.22">40</text>
<line x1="519.1" y1="194.6" x2="519.1" y2="196.6" stroke="#3c3c3c" stroke-width="1.1" />
<line x1="541.4" y1="194.6" x2="541.4" y2="197.8" stroke="#3c3c3c" stroke-width="1.1" />
<text transform="translate(536.27 208.63) scale(1 1.05)" font-family="Liberation Sans" font-weight="normal" font-size="9.2" fill="#262626" stroke="#262626" stroke-width="0.22">50</text>
<line x1="315.3" y1="56.4" x2="318.9" y2="56.4" stroke="#333" stroke-width="1.2" />
<line x1="316.5" y1="37.77" x2="318.9" y2="37.77" stroke="#333" stroke-width="1.2" />
<line x1="316.5" y1="26.87" x2="318.9" y2="26.87" stroke="#333" stroke-width="1.2" />
<line x1="316.5" y1="19.13" x2="318.9" y2="19.13" stroke="#333" stroke-width="1.2" />
<line x1="316.5" y1="13.13" x2="318.9" y2="13.13" stroke="#333" stroke-width="1.2" />
<line x1="316.5" y1="8.23" x2="318.9" y2="8.23" stroke="#333" stroke-width="1.2" />
<line x1="315.3" y1="118.3" x2="318.9" y2="118.3" stroke="#333" stroke-width="1.2" />
<line x1="316.5" y1="99.67" x2="318.9" y2="99.67" stroke="#333" stroke-width="1.2" />
<line x1="316.5" y1="88.77" x2="318.9" y2="88.77" stroke="#333" stroke-width="1.2" />
<line x1="316.5" y1="81.03" x2="318.9" y2="81.03" stroke="#333" stroke-width="1.2" />
<line x1="316.5" y1="75.03" x2="318.9" y2="75.03" stroke="#333" stroke-width="1.2" />
<line x1="316.5" y1="70.13" x2="318.9" y2="70.13" stroke="#333" stroke-width="1.2" />
<line x1="316.5" y1="65.99" x2="318.9" y2="65.99" stroke="#333" stroke-width="1.2" />
<line x1="316.5" y1="62.4" x2="318.9" y2="62.4" stroke="#333" stroke-width="1.2" />
<line x1="316.5" y1="59.23" x2="318.9" y2="59.23" stroke="#333" stroke-width="1.2" />
<line x1="315.3" y1="180.2" x2="318.9" y2="180.2" stroke="#333" stroke-width="1.2" />
<line x1="316.5" y1="161.57" x2="318.9" y2="161.57" stroke="#333" stroke-width="1.2" />
<line x1="316.5" y1="150.67" x2="318.9" y2="150.67" stroke="#333" stroke-width="1.2" />
<line x1="316.5" y1="142.93" x2="318.9" y2="142.93" stroke="#333" stroke-width="1.2" />
<line x1="316.5" y1="136.93" x2="318.9" y2="136.93" stroke="#333" stroke-width="1.2" />
<line x1="316.5" y1="132.03" x2="318.9" y2="132.03" stroke="#333" stroke-width="1.2" />
<line x1="316.5" y1="127.89" x2="318.9" y2="127.89" stroke="#333" stroke-width="1.2" />
<line x1="316.5" y1="124.3" x2="318.9" y2="124.3" stroke="#333" stroke-width="1.2" />
<line x1="316.5" y1="121.13" x2="318.9" y2="121.13" stroke="#333" stroke-width="1.2" />
<text transform="translate(405.97 219.47) scale(1 1.05)" font-family="Liberation Sans" font-weight="normal" font-size="11.1" fill="#262626" stroke="#262626" stroke-width="0.22">Time (ms)</text>
<text transform="translate(309.78 136.74) rotate(-90) scale(1.05 1)" font-family="Liberation Sans" font-size="11.1" fill="#262626" stroke="#262626" stroke-width="0.22">Intensity (a.u.)</text>
<line x1="481.5" y1="15.5" x2="501.9" y2="15.5" stroke="#111" stroke-width="1.3" />
<text transform="translate(504.66 18.82) scale(1 1.05)" font-family="Liberation Sans" font-weight="normal" font-size="9.3" fill="#262626" stroke="#262626" stroke-width="0.22">KGF</text>
<line x1="481.5" y1="27.4" x2="501.9" y2="27.4" stroke="#ff2020" stroke-width="1.3" />
<text transform="translate(505.31 30.52) scale(1 1.05)" font-family="Liberation Sans" font-weight="normal" font-size="9.3" fill="#ff2a2a" stroke="#ff2a2a" stroke-width="0.22">T-KGF</text>
<text transform="translate(413.41 62.7) scale(1 1.05)" font-family="Liberation Sans" font-weight="normal" font-size="13" fill="#262626" stroke="#262626" stroke-width="0.22">τ</text>
<text transform="translate(419.6 64.8) scale(1 1.05)" font-family="Liberation Sans" font-weight="normal" font-size="6.3" fill="#262626" stroke="#262626" stroke-width="0.22">KGF</text>
<text transform="translate(434.93 62.58) scale(1 1.05)" font-family="Liberation Sans" font-weight="normal" font-size="9.32" fill="#262626" stroke="#262626" stroke-width="0.22">= 6.19 ms</text>
<text transform="translate(413.2 84.2) scale(1 1.05)" font-family="Liberation Sans" font-weight="normal" font-size="13" fill="#ff2a2a" stroke="#ff2a2a" stroke-width="0.22">τ</text>
<text transform="translate(420.48 86.8) scale(1 1.05)" font-family="Liberation Sans" font-weight="normal" font-size="6.1" fill="#ff2a2a" stroke="#ff2a2a" stroke-width="0.22">T-KGF</text>
<text transform="translate(440.53 83.88) scale(1 1.05)" font-family="Liberation Sans" font-weight="normal" font-size="9.32" fill="#ff2a2a" stroke="#ff2a2a" stroke-width="0.22">= 6.26 ms</text>
<text transform="translate(293.82 16.1) scale(1 1)" font-family="Liberation Serif" font-weight="bold" font-size="15.4" fill="#111" stroke="#111" stroke-width="0.35">(b)</text>
<path d="M35.6,251 H261.2 M35.6,440.9 H261.2" stroke="#4a4a4a" stroke-width="1.6" fill="none"/>
<path d="M36.5,251.8 V440.1 M260.3,251.8 V440.1" stroke="#858585" stroke-width="2.1" fill="none"/>
<line x1="32.7" y1="440.9" x2="36.5" y2="440.9" stroke="#333" stroke-width="1.2" />
<text transform="translate(17.78 444.23) scale(1 1.05)" font-family="Liberation Sans" font-weight="normal" font-size="9.2" fill="#262626" stroke="#262626" stroke-width="0.22">0.3</text>
<line x1="34" y1="431.25" x2="36.5" y2="431.25" stroke="#333" stroke-width="1.2" />
<line x1="32.7" y1="421.6" x2="36.5" y2="421.6" stroke="#333" stroke-width="1.2" />
<text transform="translate(17.69 424.93) scale(1 1.05)" font-family="Liberation Sans" font-weight="normal" font-size="9.2" fill="#262626" stroke="#262626" stroke-width="0.22">0.4</text>
<line x1="34" y1="411.95" x2="36.5" y2="411.95" stroke="#333" stroke-width="1.2" />
<line x1="32.7" y1="402.3" x2="36.5" y2="402.3" stroke="#333" stroke-width="1.2" />
<text transform="translate(17.78 405.63) scale(1 1.05)" font-family="Liberation Sans" font-weight="normal" font-size="9.2" fill="#262626" stroke="#262626" stroke-width="0.22">0.5</text>
<line x1="34" y1="392.65" x2="36.5" y2="392.65" stroke="#333" stroke-width="1.2" />
<line x1="32.7" y1="383" x2="36.5" y2="383" stroke="#333" stroke-width="1.2" />
<text transform="translate(17.78 386.33) scale(1 1.05)" font-family="Liberation Sans" font-weight="normal" font-size="9.2" fill="#262626" stroke="#262626" stroke-width="0.22">0.6</text>
<line x1="34" y1="373.35" x2="36.5" y2="373.35" stroke="#333" stroke-width="1.2" />
<line x1="32.7" y1="363.7" x2="36.5" y2="363.7" stroke="#333" stroke-width="1.2" />
<text transform="translate(17.87 367.03) scale(1 1.05)" font-family="Liberation Sans" font-weight="normal" font-size="9.2" fill="#262626" stroke="#262626" stroke-width="0.22">0.7</text>
<line x1="34" y1="354.05" x2="36.5" y2="354.05" stroke="#333" stroke-width="1.2" />
<line x1="32.7" y1="344.4" x2="36.5" y2="344.4" stroke="#333" stroke-width="1.2" />
<text transform="translate(17.78 347.73) scale(1 1.05)" font-family="Liberation Sans" font-weight="normal" font-size="9.2" fill="#262626" stroke="#262626" stroke-width="0.22">0.8</text>
<line x1="34" y1="334.75" x2="36.5" y2="334.75" stroke="#333" stroke-width="1.2" />
<line x1="32.7" y1="325.1" x2="36.5" y2="325.1" stroke="#333" stroke-width="1.2" />
<text transform="translate(17.83 328.43) scale(1 1.05)" font-family="Liberation Sans" font-weight="normal" font-size="9.2" fill="#262626" stroke="#262626" stroke-width="0.22">0.9</text>
<line x1="34" y1="315.45" x2="36.5" y2="315.45" stroke="#333" stroke-width="1.2" />
<line x1="32.7" y1="305.8" x2="36.5" y2="305.8" stroke="#333" stroke-width="1.2" />
<text transform="translate(17.73 309.13) scale(1 1.05)" font-family="Liberation Sans" font-weight="normal" font-size="9.2" fill="#262626" stroke="#262626" stroke-width="0.22">1.0</text>
<line x1="34" y1="296.15" x2="36.5" y2="296.15" stroke="#333" stroke-width="1.2" />
<line x1="32.7" y1="286.5" x2="36.5" y2="286.5" stroke="#333" stroke-width="1.2" />
<text transform="translate(17.83 289.83) scale(1 1.05)" font-family="Liberation Sans" font-weight="normal" font-size="9.2" fill="#262626" stroke="#262626" stroke-width="0.22">1.1</text>
<line x1="34" y1="276.85" x2="36.5" y2="276.85" stroke="#333" stroke-width="1.2" />
<line x1="32.7" y1="267.2" x2="36.5" y2="267.2" stroke="#333" stroke-width="1.2" />
<text transform="translate(17.87 270.53) scale(1 1.05)" font-family="Liberation Sans" font-weight="normal" font-size="9.2" fill="#262626" stroke="#262626" stroke-width="0.22">1.2</text>
<line x1="34" y1="257.55" x2="36.5" y2="257.55" stroke="#333" stroke-width="1.2" />
<line x1="50.2" y1="440.9" x2="50.2" y2="444.1" stroke="#3c3c3c" stroke-width="1.1" />
<text transform="translate(42.5 455.03) scale(1 1.05)" font-family="Liberation Sans" font-weight="normal" font-size="9.2" fill="#262626" stroke="#262626" stroke-width="0.22">298</text>
<line x1="64.18" y1="440.9" x2="64.18" y2="442.9" stroke="#3c3c3c" stroke-width="1.1" />
<line x1="78.16" y1="440.9" x2="78.16" y2="444.1" stroke="#3c3c3c" stroke-width="1.1" />
<text transform="translate(70.5 455.03) scale(1 1.05)" font-family="Liberation Sans" font-weight="normal" font-size="9.2" fill="#262626" stroke="#262626" stroke-width="0.22">323</text>
<line x1="92.14" y1="440.9" x2="92.14" y2="442.9" stroke="#3c3c3c" stroke-width="1.1" />
<line x1="106.12" y1="440.9" x2="106.12" y2="444.1" stroke="#3c3c3c" stroke-width="1.1" />
<text transform="translate(98.46 455.03) scale(1 1.05)" font-family="Liberation Sans" font-weight="normal" font-size="9.2" fill="#262626" stroke="#262626" stroke-width="0.22">348</text>
<line x1="120.1" y1="440.9" x2="120.1" y2="442.9" stroke="#3c3c3c" stroke-width="1.1" />
<line x1="134.08" y1="440.9" x2="134.08" y2="444.1" stroke="#3c3c3c" stroke-width="1.1" />
<text transform="translate(126.42 455.03) scale(1 1.05)" font-family="Liberation Sans" font-weight="normal" font-size="9.2" fill="#262626" stroke="#262626" stroke-width="0.22">373</text>
<line x1="148.06" y1="440.9" x2="148.06" y2="442.9" stroke="#3c3c3c" stroke-width="1.1" />
<line x1="162.04" y1="440.9" x2="162.04" y2="444.1" stroke="#3c3c3c" stroke-width="1.1" />
<text transform="translate(154.38 455.03) scale(1 1.05)" font-family="Liberation Sans" font-weight="normal" font-size="9.2" fill="#262626" stroke="#262626" stroke-width="0.22">398</text>
<line x1="176.02" y1="440.9" x2="176.02" y2="442.9" stroke="#3c3c3c" stroke-width="1.1" />
<line x1="190" y1="440.9" x2="190" y2="444.1" stroke="#3c3c3c" stroke-width="1.1" />
<text transform="translate(182.43 455.03) scale(1 1.05)" font-family="Liberation Sans" font-weight="normal" font-size="9.2" fill="#262626" stroke="#262626" stroke-width="0.22">423</text>
<line x1="203.98" y1="440.9" x2="203.98" y2="442.9" stroke="#3c3c3c" stroke-width="1.1" />
<line x1="217.96" y1="440.9" x2="217.96" y2="444.1" stroke="#3c3c3c" stroke-width="1.1" />
<text transform="translate(210.39 455.03) scale(1 1.05)" font-family="Liberation Sans" font-weight="normal" font-size="9.2" fill="#262626" stroke="#262626" stroke-width="0.22">448</text>
<line x1="231.94" y1="440.9" x2="231.94" y2="442.9" stroke="#3c3c3c" stroke-width="1.1" />
<line x1="245.92" y1="440.9" x2="245.92" y2="444.1" stroke="#3c3c3c" stroke-width="1.1" />
<text transform="translate(238.35 455.03) scale(1 1.05)" font-family="Liberation Sans" font-weight="normal" font-size="9.2" fill="#262626" stroke="#262626" stroke-width="0.22">473</text>
<line x1="259.9" y1="440.9" x2="259.9" y2="442.9" stroke="#3c3c3c" stroke-width="1.1" />
<text transform="translate(108.85 465.82) scale(1 1.05)" font-family="Liberation Sans" font-weight="normal" font-size="11.1" fill="#262626" stroke="#262626" stroke-width="0.22">Temperature (K)</text>
<text transform="translate(12.93 413.05) rotate(-90) scale(1.05 1)" font-family="Liberation Sans" font-size="11.1" fill="#262626" stroke="#262626" stroke-width="0.22">Normalized intensity (a.u.)</text>
<path d="M50.2,305.8 L78.16,299.43 L106.12,289.39 L134.08,296.73 L162.04,297.89 L190,304.26 L217.96,337.45 L245.92,411.56" fill="none" stroke="#333" stroke-width="1.5"/>
<rect x="48.05" y="303.65" width="4.3" height="4.3" fill="#111"/>
<rect x="76.01" y="297.28" width="4.3" height="4.3" fill="#111"/>
<rect x="103.97" y="287.25" width="4.3" height="4.3" fill="#111"/>
<rect x="131.93" y="294.58" width="4.3" height="4.3" fill="#111"/>
<rect x="159.89" y="295.74" width="4.3" height="4.3" fill="#111"/>
<rect x="187.85" y="302.11" width="4.3" height="4.3" fill="#111"/>
<rect x="215.81" y="335.3" width="4.3" height="4.3" fill="#111"/>
<rect x="243.77" y="409.41" width="4.3" height="4.3" fill="#111"/>
<path d="M50.2,305.8 L78.16,291.9 L106.12,281.48 L134.08,289.97 L162.04,290.17 L190,297.12 L217.96,331.47 L245.92,409.63" fill="none" stroke="#ff2a2a" stroke-width="1.5"/>
<circle cx="50.2" cy="305.8" r="2.45" fill="#ff1a1a"/>
<circle cx="78.16" cy="291.9" r="2.45" fill="#ff1a1a"/>
<circle cx="106.12" cy="281.48" r="2.45" fill="#ff1a1a"/>
<circle cx="134.08" cy="289.97" r="2.45" fill="#ff1a1a"/>
<circle cx="162.04" cy="290.17" r="2.45" fill="#ff1a1a"/>
<circle cx="190" cy="297.12" r="2.45" fill="#ff1a1a"/>
<circle cx="217.96" cy="331.47" r="2.45" fill="#ff1a1a"/>
<circle cx="245.92" cy="409.63" r="2.45" fill="#ff1a1a"/>
<line x1="197.2" y1="265.7" x2="218.1" y2="265.7" stroke="#1a1a1a" stroke-width="1.3" />
<rect x="205.45" y="263.55" width="4.3" height="4.3" fill="#111"/>
<text transform="translate(220.26 269.02) scale(1 1.05)" font-family="Liberation Sans" font-weight="normal" font-size="9.3" fill="#262626" stroke="#262626" stroke-width="0.22">KGF</text>
<line x1="197.2" y1="277.6" x2="218.1" y2="277.6" stroke="#ff2020" stroke-width="1.3" />
<circle cx="207.6" cy="277.7" r="2.45" fill="#ff1a1a"/>
<text transform="translate(222.01 280.77) scale(1 1.05)" font-family="Liberation Sans" font-weight="normal" font-size="9.3" fill="#262626" stroke="#262626" stroke-width="0.22">T-KGF</text>
<text transform="translate(15.65 254.35) scale(1 1)" font-family="Liberation Serif" font-weight="bold" font-size="15.4" fill="#111" stroke="#111" stroke-width="0.35">(c)</text>
<path d="M317.1,251 H542.2 M317.1,441.2 H542.2" stroke="#4a4a4a" stroke-width="1.6" fill="none"/>
<path d="M318,251.8 V440.4 M541.3,251.8 V440.4" stroke="#858585" stroke-width="2.1" fill="none"/>
<line x1="314.2" y1="441.2" x2="318" y2="441.2" stroke="#333" stroke-width="1.2" />
<text transform="translate(306.42 444.73) scale(1 1.05)" font-family="Liberation Sans" font-weight="normal" font-size="9.2" fill="#262626" stroke="#262626" stroke-width="0.22">0</text>
<line x1="315.5" y1="423.84" x2="318" y2="423.84" stroke="#333" stroke-width="1.2" />
<line x1="314.2" y1="406.48" x2="318" y2="406.48" stroke="#333" stroke-width="1.2" />
<text transform="translate(301.31 410.01) scale(1 1.05)" font-family="Liberation Sans" font-weight="normal" font-size="9.2" fill="#262626" stroke="#262626" stroke-width="0.22">20</text>
<line x1="315.5" y1="389.12" x2="318" y2="389.12" stroke="#333" stroke-width="1.2" />
<line x1="314.2" y1="371.76" x2="318" y2="371.76" stroke="#333" stroke-width="1.2" />
<text transform="translate(301.31 375.29) scale(1 1.05)" font-family="Liberation Sans" font-weight="normal" font-size="9.2" fill="#262626" stroke="#262626" stroke-width="0.22">40</text>
<line x1="315.5" y1="354.4" x2="318" y2="354.4" stroke="#333" stroke-width="1.2" />
<line x1="314.2" y1="337.04" x2="318" y2="337.04" stroke="#333" stroke-width="1.2" />
<text transform="translate(301.31 340.57) scale(1 1.05)" font-family="Liberation Sans" font-weight="normal" font-size="9.2" fill="#262626" stroke="#262626" stroke-width="0.22">60</text>
<line x1="315.5" y1="319.68" x2="318" y2="319.68" stroke="#333" stroke-width="1.2" />
<line x1="314.2" y1="302.32" x2="318" y2="302.32" stroke="#333" stroke-width="1.2" />
<text transform="translate(301.31 305.85) scale(1 1.05)" font-family="Liberation Sans" font-weight="normal" font-size="9.2" fill="#262626" stroke="#262626" stroke-width="0.22">80</text>
<line x1="315.5" y1="284.96" x2="318" y2="284.96" stroke="#333" stroke-width="1.2" />
<line x1="314.2" y1="267.6" x2="318" y2="267.6" stroke="#333" stroke-width="1.2" />
<text transform="translate(296.2 271.13) scale(1 1.05)" font-family="Liberation Sans" font-weight="normal" font-size="9.2" fill="#262626" stroke="#262626" stroke-width="0.22">100</text>
<line x1="317.8" y1="441.2" x2="317.8" y2="444.4" stroke="#3c3c3c" stroke-width="1.1" />
<text transform="translate(315.22 454.98) scale(1 1.05)" font-family="Liberation Sans" font-weight="normal" font-size="9.2" fill="#262626" stroke="#262626" stroke-width="0.22">0</text>
<line x1="339.46" y1="441.2" x2="339.46" y2="443.2" stroke="#3c3c3c" stroke-width="1.1" />
<line x1="361.12" y1="441.2" x2="361.12" y2="444.4" stroke="#3c3c3c" stroke-width="1.1" />
<text transform="translate(355.94 454.98) scale(1 1.05)" font-family="Liberation Sans" font-weight="normal" font-size="9.2" fill="#262626" stroke="#262626" stroke-width="0.22">60</text>
<line x1="382.78" y1="441.2" x2="382.78" y2="443.2" stroke="#3c3c3c" stroke-width="1.1" />
<line x1="404.44" y1="441.2" x2="404.44" y2="444.4" stroke="#3c3c3c" stroke-width="1.1" />
<text transform="translate(396.6 454.98) scale(1 1.05)" font-family="Liberation Sans" font-weight="normal" font-size="9.2" fill="#262626" stroke="#262626" stroke-width="0.22">120</text>
<line x1="426.1" y1="441.2" x2="426.1" y2="443.2" stroke="#3c3c3c" stroke-width="1.1" />
<line x1="447.76" y1="441.2" x2="447.76" y2="444.4" stroke="#3c3c3c" stroke-width="1.1" />
<text transform="translate(439.92 454.98) scale(1 1.05)" font-family="Liberation Sans" font-weight="normal" font-size="9.2" fill="#262626" stroke="#262626" stroke-width="0.22">180</text>
<line x1="469.42" y1="441.2" x2="469.42" y2="443.2" stroke="#3c3c3c" stroke-width="1.1" />
<line x1="491.08" y1="441.2" x2="491.08" y2="444.4" stroke="#3c3c3c" stroke-width="1.1" />
<text transform="translate(483.35 454.98) scale(1 1.05)" font-family="Liberation Sans" font-weight="normal" font-size="9.2" fill="#262626" stroke="#262626" stroke-width="0.22">240</text>
<line x1="512.74" y1="441.2" x2="512.74" y2="443.2" stroke="#3c3c3c" stroke-width="1.1" />
<line x1="534.4" y1="441.2" x2="534.4" y2="444.4" stroke="#3c3c3c" stroke-width="1.1" />
<text transform="translate(526.72 454.98) scale(1 1.05)" font-family="Liberation Sans" font-weight="normal" font-size="9.2" fill="#262626" stroke="#262626" stroke-width="0.22">300</text>
<text transform="translate(377.65 466.32) scale(1 1.05)" font-family="Liberation Sans" font-weight="normal" font-size="11.1" fill="#262626" stroke="#262626" stroke-width="0.22">Immersing time (min)</text>
<text transform="translate(291.73 404.28) rotate(-90) scale(1.05 1)" font-family="Liberation Sans" font-size="11.1" fill="#262626" stroke="#262626" stroke-width="0.22">Relative intensity (a.u.)</text>
<g clip-path="url(#cd)">
<path d="M317.8,267.6 L325.02,322.63 L332.24,353.36 L346.68,368.11 L361.12,374.19 L404.44,375.93 L447.76,375.06 L491.08,377.14 L534.4,378.18" fill="none" stroke="#5040f0" stroke-width="1.7"/>
<rect x="315.3" y="265.1" width="5" height="5" fill="#fff" stroke="#3030ff" stroke-width="1"/>
<rect x="315.3" y="267.6" width="5" height="2.5" fill="#2020ff"/>
<rect x="322.52" y="320.13" width="5" height="5" fill="#fff" stroke="#3030ff" stroke-width="1"/>
<rect x="322.52" y="322.63" width="5" height="2.5" fill="#2020ff"/>
<rect x="329.74" y="350.86" width="5" height="5" fill="#fff" stroke="#3030ff" stroke-width="1"/>
<rect x="329.74" y="353.36" width="5" height="2.5" fill="#2020ff"/>
<rect x="344.18" y="365.61" width="5" height="5" fill="#fff" stroke="#3030ff" stroke-width="1"/>
<rect x="344.18" y="368.11" width="5" height="2.5" fill="#2020ff"/>
<rect x="358.62" y="371.69" width="5" height="5" fill="#fff" stroke="#3030ff" stroke-width="1"/>
<rect x="358.62" y="374.19" width="5" height="2.5" fill="#2020ff"/>
<rect x="401.94" y="373.43" width="5" height="5" fill="#fff" stroke="#3030ff" stroke-width="1"/>
<rect x="401.94" y="375.93" width="5" height="2.5" fill="#2020ff"/>
<rect x="445.26" y="372.56" width="5" height="5" fill="#fff" stroke="#3030ff" stroke-width="1"/>
<rect x="445.26" y="375.06" width="5" height="2.5" fill="#2020ff"/>
<rect x="488.58" y="374.64" width="5" height="5" fill="#fff" stroke="#3030ff" stroke-width="1"/>
<rect x="488.58" y="377.14" width="5" height="2.5" fill="#2020ff"/>
<rect x="531.9" y="375.68" width="5" height="5" fill="#fff" stroke="#3030ff" stroke-width="1"/>
<rect x="531.9" y="378.18" width="5" height="2.5" fill="#2020ff"/>
<path d="M317.8,267.6 L325.02,271.77 L332.24,273.33 L346.68,274.72 L361.12,275.59 L404.44,274.37 L447.76,275.24 L491.08,274.89 L534.4,275.24" fill="none" stroke="#ff4848" stroke-width="1.7"/>
<circle cx="317.8" cy="267.6" r="3" fill="url(#ball)"/>
<circle cx="325.02" cy="271.77" r="3" fill="url(#ball)"/>
<circle cx="332.24" cy="273.33" r="3" fill="url(#ball)"/>
<circle cx="346.68" cy="274.72" r="3" fill="url(#ball)"/>
<circle cx="361.12" cy="275.59" r="3" fill="url(#ball)"/>
<circle cx="404.44" cy="274.37" r="3" fill="url(#ball)"/>
<circle cx="447.76" cy="275.24" r="3" fill="url(#ball)"/>
<circle cx="491.08" cy="274.89" r="3" fill="url(#ball)"/>
<circle cx="534.4" cy="275.24" r="3" fill="url(#ball)"/>
</g>
<line x1="402.8" y1="330" x2="424.2" y2="330" stroke="#5040f0" stroke-width="1.6" />
<rect x="410.8" y="327.5" width="5" height="5" fill="#fff" stroke="#3030ff" stroke-width="1"/>
<rect x="410.8" y="330" width="5" height="2.5" fill="#2020ff"/>
<text transform="translate(425.96 333.47) scale(1 1.05)" font-family="Liberation Sans" font-weight="normal" font-size="9.3" fill="#262626" stroke="#262626" stroke-width="0.22">KGF</text>
<line x1="402.8" y1="341.9" x2="424.2" y2="341.9" stroke="#ff4848" stroke-width="1.6" />
<circle cx="413.3" cy="341.9" r="3" fill="url(#ball)"/>
<text transform="translate(427.31 345.57) scale(1 1.05)" font-family="Liberation Sans" font-weight="normal" font-size="9.3" fill="#262626" stroke="#262626" stroke-width="0.22">T-KGF</text>
<line x1="517.2" y1="293.5" x2="531.5" y2="279.2" stroke="#222" stroke-width="1" />
<path d="M531.5,279.2 L529.52,284.29 L526.41,281.18 Z" fill="#222"/>
<text transform="translate(501.32 304.37) scale(1 1.05)" font-family="Liberation Sans" font-weight="normal" font-size="9.3" fill="#262626" stroke="#262626" stroke-width="0.22">95.8%</text>
<line x1="517.2" y1="396.9" x2="530.7" y2="383.7" stroke="#222" stroke-width="1" />
<path d="M530.7,383.7 L528.66,388.77 L525.59,385.62 Z" fill="#222"/>
<text transform="translate(501.44 407.22) scale(1 1.05)" font-family="Liberation Sans" font-weight="normal" font-size="9.3" fill="#262626" stroke="#262626" stroke-width="0.22">36.2%</text>
<text transform="translate(292.62 255.25) scale(1 1)" font-family="Liberation Serif" font-weight="bold" font-size="15.4" fill="#111" stroke="#111" stroke-width="0.35">(d)</text>
</svg>
</body></html>
